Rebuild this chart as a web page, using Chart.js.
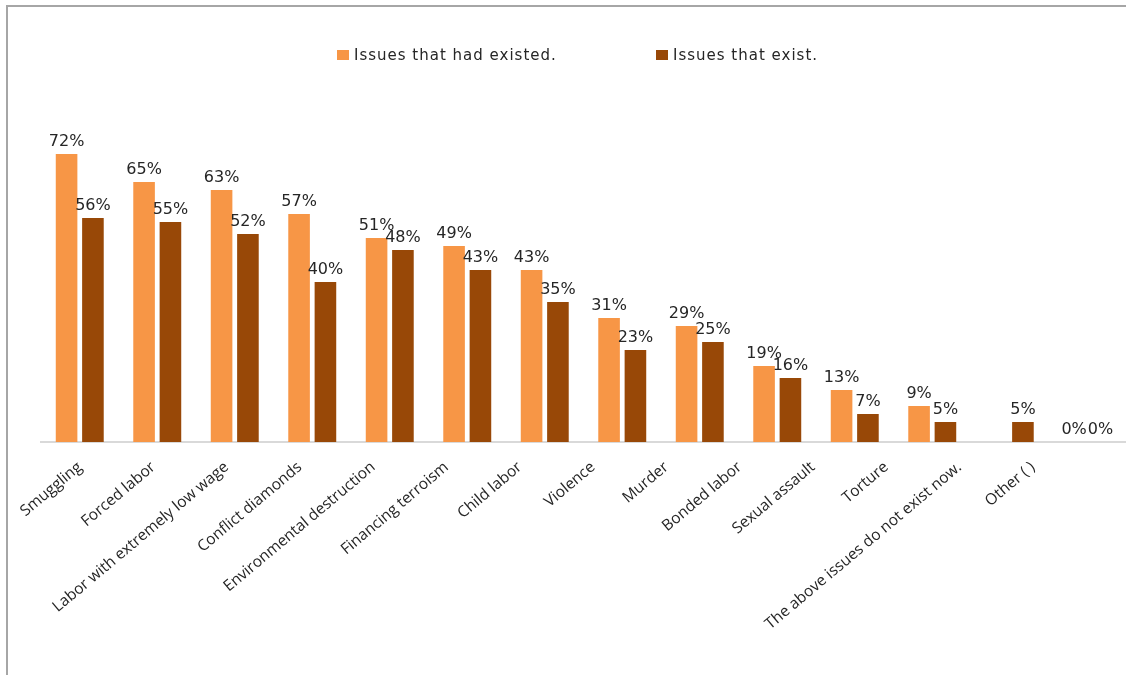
<!DOCTYPE html>
<html>
<head>
<meta charset="utf-8">
<title>Issues</title>
<script src="https://cdn.jsdelivr.net/npm/chart.js@4.4.1/dist/chart.umd.min.js"></script>
<style>
  html, body { margin: 0; padding: 0; background: #fff; }
  #wrap { position: relative; width: 1126px; height: 675px; }
  #frame {
    position: absolute; left: 6px; top: 5px; right: 0; bottom: 0;
    border-left: 2px solid #a6a6a6; border-top: 2px solid #a6a6a6;
    pointer-events: none;
  }
  .leg {
    position: absolute; top: 46px; font: 15px "DejaVu Sans", sans-serif;
    letter-spacing: 1px; color: #262626; white-space: nowrap;
  }
  .leg i {
    display: inline-block; width: 12px; height: 10px; margin-right: 5px;
    vertical-align: 0px;
  }
</style>
</head>
<body>
<div id="wrap">
  <canvas id="grafico" width="1126" height="675"></canvas>
  <div id="frame"></div>
  <div class="leg" style="left:337px"><i style="background:#f79646"></i>Issues that had existed.</div>
  <div class="leg" style="left:656px"><i style="background:#984807"></i>Issues that exist.</div>
</div>
<script>
const categorias = [
  "Smuggling", "Forced labor", "Labor with extremely low wage", "Conflict diamonds",
  "Environmental destruction", "Financing terroism", "Child labor", "Violence",
  "Murder", "Bonded labor", "Sexual assault", "Torture",
  "The above issues do not exist now.", "Other ( )"
];
const existiam = [72, 65, 63, 57, 51, 49, 43, 31, 29, 19, 13, 9, null, 0];
const existem  = [56, 55, 52, 40, 48, 43, 35, 23, 25, 16, 7, 5, 5, 0];

// rótulos de porcentagem em cima das barras
const rotulos = {
  id: "rotulos",
  afterDatasetsDraw(chart) {
    const ctx = chart.ctx;
    ctx.save();
    ctx.font = "16px 'DejaVu Sans', sans-serif";
    ctx.fillStyle = "#262626";
    ctx.textAlign = "center";
    ctx.textBaseline = "alphabetic";
    chart.data.datasets.forEach((ds, i) => {
      chart.getDatasetMeta(i).data.forEach((bar, j) => {
        const v = ds.data[j];
        if (v === null || v === undefined) return;
        ctx.fillText(v + "%", bar.x, bar.y - 8);
      });
    });
    ctx.restore();
  }
};

new Chart(document.getElementById("grafico"), {
  type: "bar",
  data: {
    labels: categorias,
    datasets: [
      { label: "Issues that had existed.", data: existiam, backgroundColor: "#f79646" },
      { label: "Issues that exist.", data: existem, backgroundColor: "#984807" }
    ]
  },
  options: {
    responsive: false,
    animation: false,
    layout: { padding: { top: 122, left: 41, right: 0, bottom: 0 } },
    datasets: { bar: { categoryPercentage: 0.68, barPercentage: 0.82 } },
    plugins: { legend: { display: false }, tooltip: { enabled: false } },
    scales: {
      x: {
        grid: { display: false },
        border: { display: true, color: "#d9d9d9", width: 2 },
        ticks: { display: false },
        afterFit(scale) { scale.height = 0; }
      },
      // eixo só para os nomes, um pouco mais apertado que as barras
      nomes: {
        type: "linear",
        position: "bottom",
        offset: false,
        bounds: "data",
        min: -0.532,
        max: 14.27,
        grid: { display: false, offset: false },
        border: { display: false },
        afterBuildTicks(scale) {
          scale.ticks = categorias.map((_, i) => ({ value: i }));
        },
        ticks: {
          autoSkip: false, minRotation: 40, maxRotation: 40, padding: 8,
          color: "#262626", font: { family: "'Open Sans'", size: 15.5 },
          callback: (v) => categorias[v]
        },
        afterFit(scale) { scale.height = 233; }
      },
      y: { display: false, min: 0, max: 80 }
    }
  },
  plugins: [rotulos]
});
</script>
</body>
</html>
